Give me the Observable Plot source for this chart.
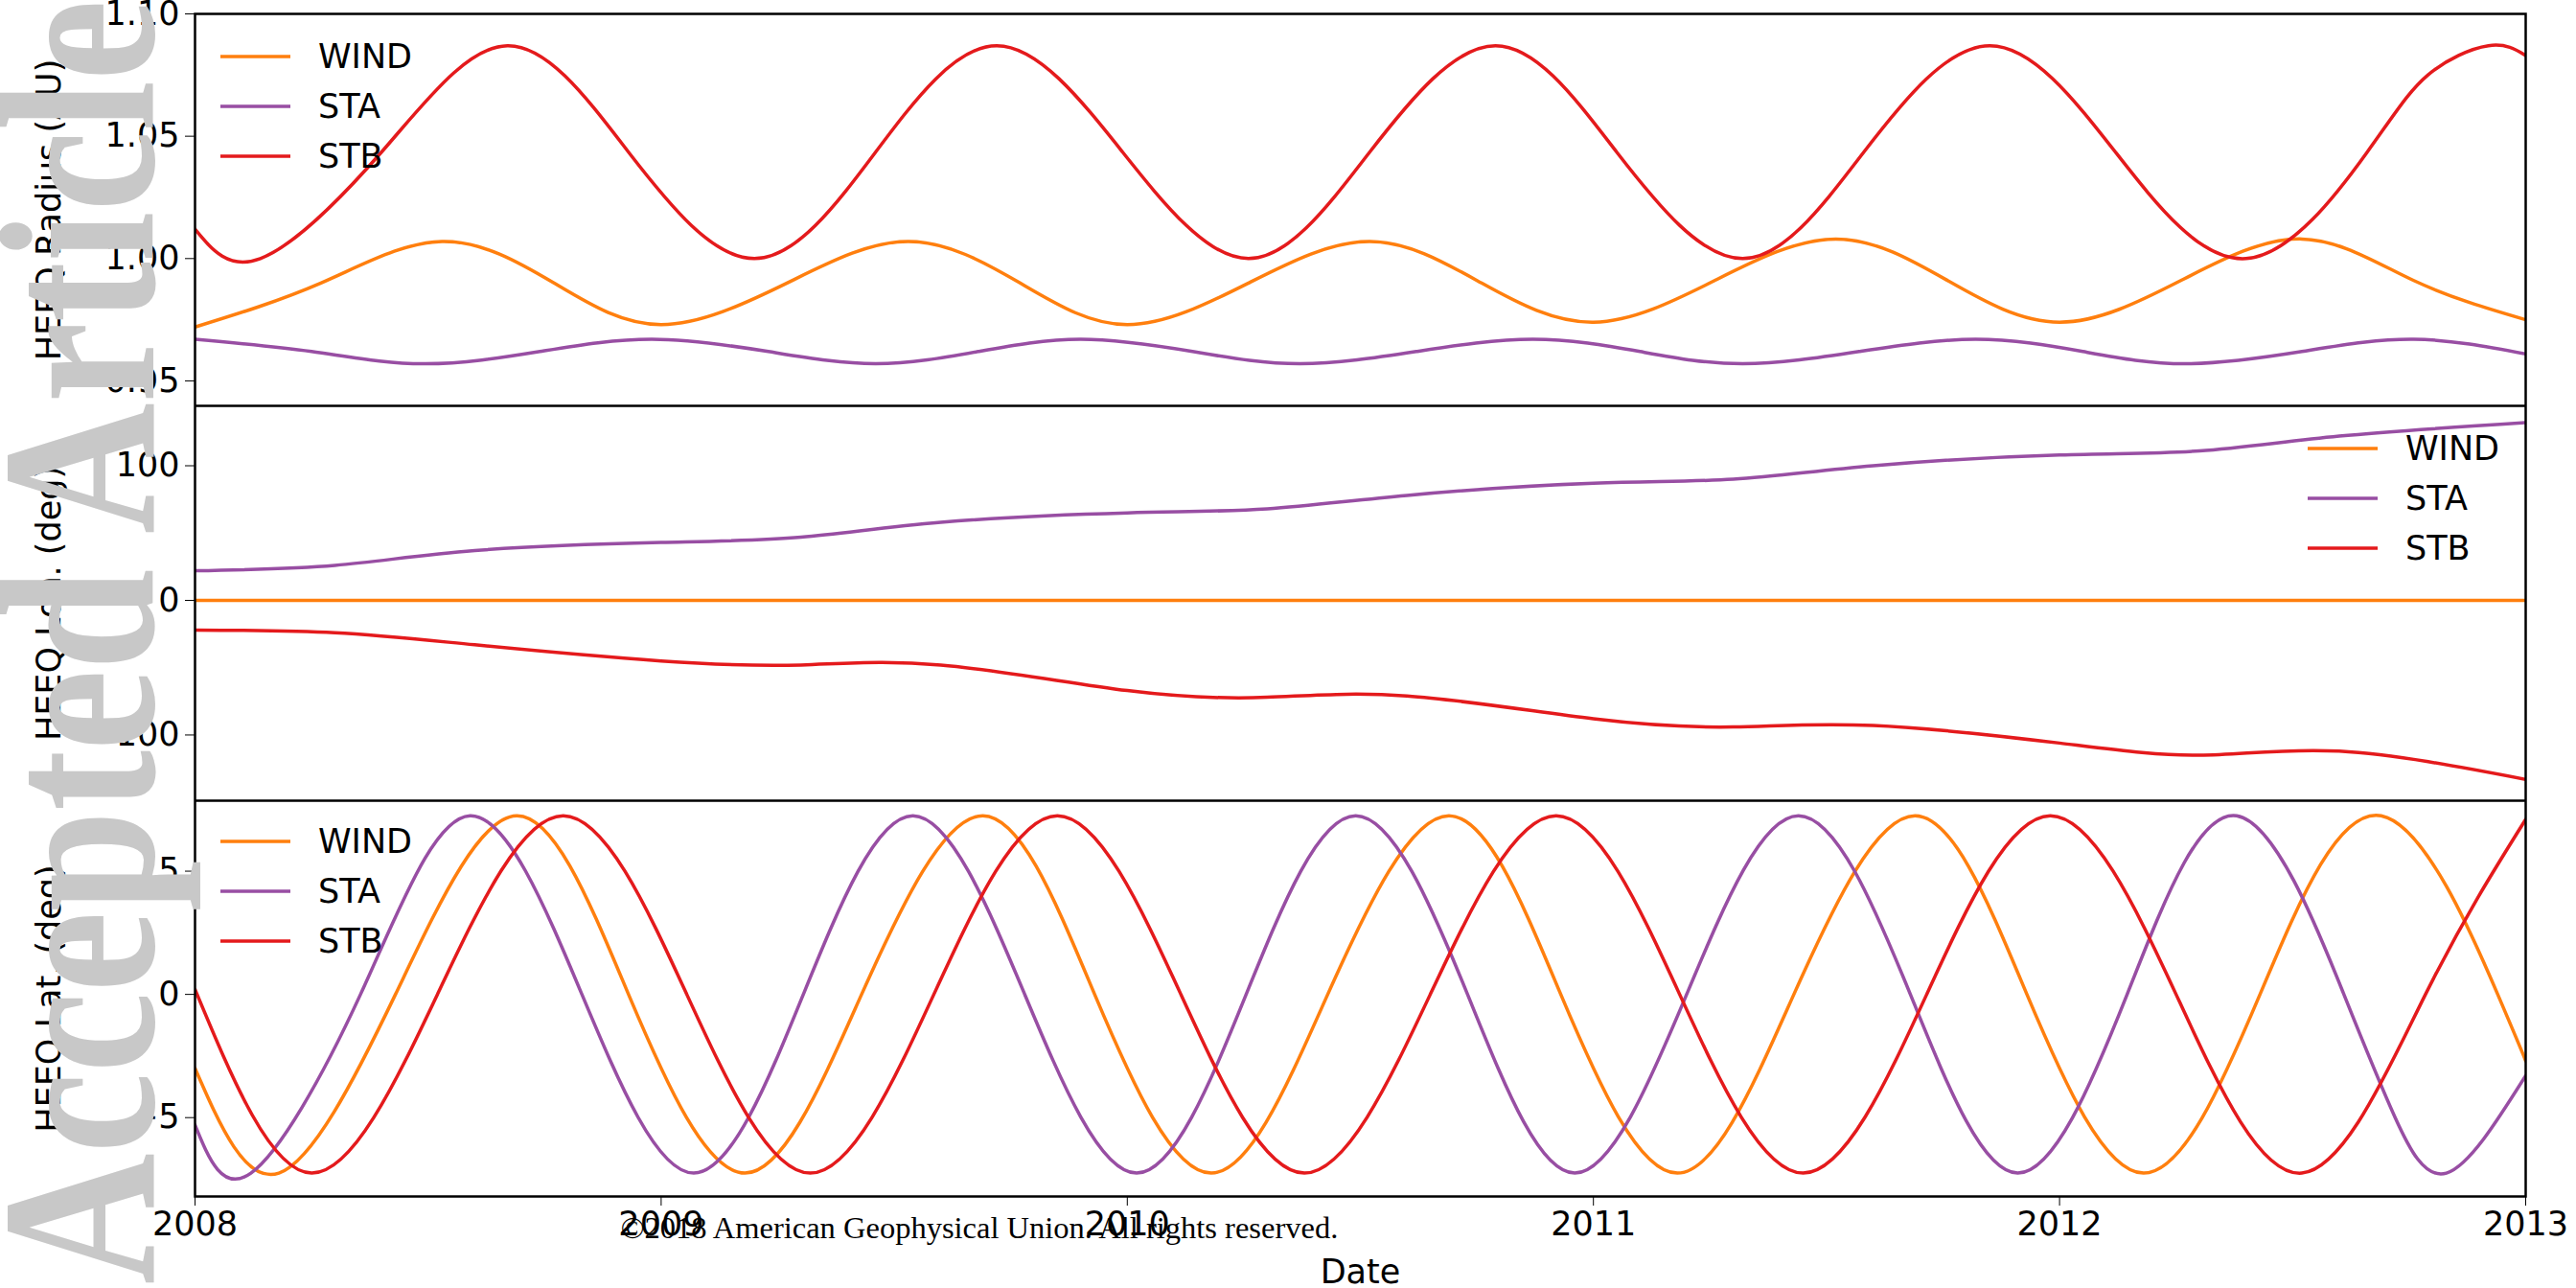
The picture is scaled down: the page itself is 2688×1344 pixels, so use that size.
<!DOCTYPE html>
<html>
<head>
<meta charset="utf-8">
<script src="https://cdn.jsdelivr.net/npm/d3@7"></script>
<script src="https://cdn.jsdelivr.net/npm/@observablehq/plot@0.6"></script>
<style>
  body { margin: 0; background: #fff; }
  #wrap { position: relative; width: 2688px; height: 1344px; overflow: hidden; }
  #wrap svg { display: block; }
  #mark { position: absolute; left: 0; top: 0; pointer-events: none; }
</style>
</head>
<body>
<div id="wrap"><div id="chart"></div></div>
<script>
// key points (decimal year, value)
const windRadT = [2008.0, 2008.27, 2008.53, 2008.77, 2009.0, 2009.27, 2009.53, 2009.77, 2010.0, 2010.26, 2010.52, 2010.76, 2011.0, 2011.26, 2011.52, 2011.76, 2012.0, 2012.26, 2012.52, 2012.76, 2013.0]
const windRad  = [0.972, 0.990, 1.007, 0.990, 0.973, 0.990, 1.007, 0.990, 0.973, 0.990, 1.007, 0.990, 0.974, 0.991, 1.008, 0.991, 0.974, 0.991, 1.008, 0.991, 0.975]
const staRadT = [2008.0, 2008.25, 2008.49, 2008.74, 2008.98, 2009.23, 2009.46, 2009.68, 2009.9, 2010.14, 2010.37, 2010.62, 2010.87, 2011.1, 2011.32, 2011.57, 2011.82, 2012.05, 2012.27, 2012.52, 2012.76, 2013.0]
const staRad  = [0.967, 0.962, 0.957, 0.962, 0.967, 0.962, 0.957, 0.962, 0.967, 0.962, 0.957, 0.962, 0.967, 0.962, 0.957, 0.962, 0.967, 0.962, 0.957, 0.962, 0.967, 0.961]
const stbRadT = [2008.0, 2008.14, 2008.40, 2008.67, 2008.93, 2009.2, 2009.46, 2009.72, 2009.99, 2010.26, 2010.52, 2010.79, 2011.05, 2011.32, 2011.58, 2011.85, 2012.12, 2012.4, 2012.66, 2012.79, 2012.92, 2013.0]
const stbRad  = [1.012, 1.000, 1.0435, 1.087, 1.0435, 1.000, 1.0435, 1.087, 1.0435, 1.000, 1.0435, 1.087, 1.0435, 1.000, 1.0435, 1.087, 1.0435, 1.000, 1.0435, 1.075, 1.087, 1.083]

const lonT   = [2008.0, 2008.3, 2008.6, 2009.0, 2009.3, 2009.6, 2010.0, 2010.3, 2010.6, 2011.0, 2011.3, 2011.6, 2012.0, 2012.3, 2012.6, 2013.0]
const windLon = [0, 0, 0, 0, 0, 0, 0, 0, 0, 0, 0, 0, 0, 0, 0, 0]
const staLon  = [22, 26, 37, 43, 47, 58, 65, 68, 78, 87, 90, 100, 108, 111, 122, 132]
const stbLon  = [-22, -24, -33, -45, -48, -48, -67, -72, -71, -88, -94, -93, -106, -115, -112, -133]

const windLatT = [2008.0, 2008.18, 2008.43, 2008.69, 2008.93, 2009.18, 2009.43, 2009.69, 2009.93, 2010.18, 2010.43, 2010.69, 2010.93, 2011.18, 2011.43, 2011.69, 2011.93, 2012.18, 2012.43, 2012.69, 2012.94, 2013.0]
const windLat  = [-3.0, -7.25, 0, 7.25, 0, -7.25, 0, 7.25, 0, -7.25, 0, 7.25, 0, -7.25, 0, 7.25, 0, -7.25, 0, 7.25, 0, -2.7]
const staLatT = [2008.0, 2008.12, 2008.355, 2008.59, 2008.83, 2009.07, 2009.305, 2009.54, 2009.78, 2010.02, 2010.255, 2010.49, 2010.73, 2010.96, 2011.2, 2011.44, 2011.68, 2011.91, 2012.145, 2012.38, 2012.61, 2012.72, 2012.83, 2013.0]
const staLat  = [-5.3, -7.25, 0, 7.25, 0, -7.25, 0, 7.25, 0, -7.25, 0, 7.25, 0, -7.25, 0, 7.25, 0, -7.25, 0, 7.25, 0, -5.0, -7.25, -3.3]
const stbLatT = [2008.0, 2008.25, 2008.52, 2008.79, 2009.055, 2009.32, 2009.585, 2009.85, 2010.115, 2010.38, 2010.65, 2010.92, 2011.185, 2011.45, 2011.715, 2011.98, 2012.25, 2012.52, 2012.785, 2013.0]
const stbLat  = [0.2, -7.25, 0, 7.25, 0, -7.25, 0, 7.25, 0, -7.25, 0, 7.25, 0, -7.25, 0, 7.25, 0, -7.25, 0, 7.1]

const names = ['WIND', 'STA', 'STB']
const colors = ['#ff7f0e', '#984ea3', '#e41a1c']
const years = [2008, 2009, 2010, 2011, 2012, 2013]

function rows(ts, vs, name) { return ts.map((t, i) => ({t, v: vs[i], name})) }

const W = 2688, L = 203, R = 53
const font = "'DejaVu Sans', sans-serif"

function panel({data, domain, ticks, fmt, label, height, marginTop, marginBottom, xAxis, legend}) {
  const svg = Plot.plot({
    width: W, height, marginLeft: L, marginRight: R, marginTop, marginBottom,
    style: {fontFamily: font, fontSize: '35px', color: '#000', background: 'transparent'},
    x: {domain: [2008, 2013], ticks: years, tickFormat: d => String(d), label: xAxis ? 'Date' : null,
        labelAnchor: 'center', labelArrow: 'none', labelOffset: 90, tickSize: 10, tickPadding: 6, axis: xAxis ? 'bottom' : null},
    y: {domain, ticks, tickFormat: fmt, label, labelAnchor: 'center', labelArrow: 'none', labelOffset: 165, tickSize: 10, tickPadding: 6},
    color: {domain: names, range: colors},
    marks: [
      Plot.line(data, {x: 't', y: 'v', z: 'name', stroke: 'name', strokeWidth: 3.5, curve: 'natural', clip: true}),
      Plot.frame({stroke: '#000', strokeWidth: 2.5})
    ]
  })
  // legend box, matplotlib style
  const g = d3.select(svg).append('g').attr('text-anchor', 'start')
  names.forEach((n, i) => {
    const y = legend.y + i * 52
    g.append('line').attr('x1', legend.x).attr('x2', legend.x + 73).attr('y1', y).attr('y2', y)
      .attr('stroke', colors[i]).attr('stroke-width', 3.5)
    g.append('text').attr('x', legend.x + 102).attr('y', y).attr('dy', '0.35em')
      .attr('font-family', font).attr('font-size', 35).text(n)
  })
  return svg
}

const p1 = panel({
  data: [...rows(windRadT, windRad, 'WIND'), ...rows(staRadT, staRad, 'STA'), ...rows(stbRadT, stbRad, 'STB')],
  domain: [0.9398, 1.10], ticks: [0.95, 1.00, 1.05, 1.10], fmt: d3.format('.2f'), label: 'HEEQ Radius (AU)',
  height: 423, marginTop: 14, marginBottom: 0, xAxis: false, legend: {x: 230, y: 59}
})
const p2 = panel({
  data: [...rows(lonT, windLon, 'WIND'), ...rows(lonT, staLon, 'STA'), ...rows(lonT, stbLon, 'STB')],
  domain: [-148.8, 144.5], ticks: [-100, 0, 100], fmt: d3.format('d'), label: 'HEEQ Lon. (deg)',
  height: 412, marginTop: 0, marginBottom: 0, xAxis: false, legend: {x: 2408, y: 45}
})
const p3 = panel({
  data: [...rows(windLatT, windLat, 'WIND'), ...rows(staLatT, staLat, 'STA'), ...rows(stbLatT, stbLat, 'STB')],
  domain: [-8.2, 7.86], ticks: [-5, 0, 5], fmt: d3.format('d'), label: 'HEEQ Lat. (deg)',
  height: 509, marginTop: 0, marginBottom: 96, xAxis: true, legend: {x: 230, y: 43}
})

const chart = d3.select('#chart')
chart.append(() => p1)
chart.append(() => p2)
chart.append(() => p3)

// watermark and copyright overlay
const ov = d3.select('#wrap').append('svg').attr('id', 'mark').attr('width', W).attr('height', 1344)
ov.append('text')
  .attr('transform', 'translate(160,1340) rotate(-90)')
  .attr('font-family', "'Liberation Serif', 'DejaVu Serif', serif").attr('font-weight', 'bold')
  .attr('font-size', 230).attr('fill', '#c8c8c8')
  .attr('textLength', 1340).attr('lengthAdjust', 'spacingAndGlyphs')
  .text('Accepted Article')
ov.append('text')
  .attr('x', 1022).attr('y', 1292).attr('text-anchor', 'middle')
  .attr('font-family', "'Liberation Serif', 'DejaVu Serif', serif").attr('font-size', 32.5)
  .text('©2018 American Geophysical Union. All rights reserved.')
</script>
</body>
</html>
